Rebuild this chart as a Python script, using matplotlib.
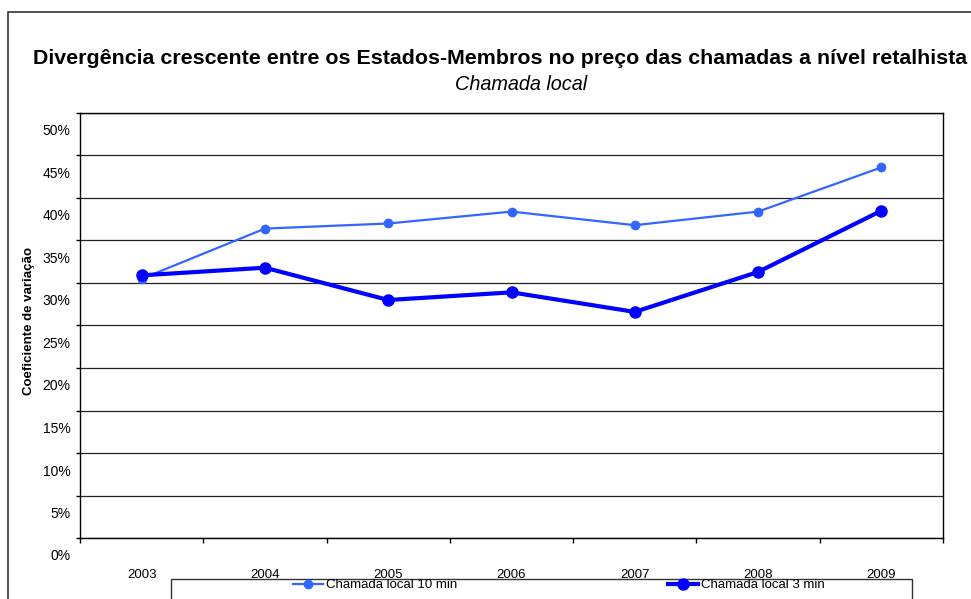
import matplotlib
matplotlib.use('Agg')
import matplotlib.pyplot as plt
from matplotlib.patches import Rectangle
from matplotlib.transforms import ScaledTranslation
from matplotlib.ticker import PercentFormatter

# данные графика
years = ['2003', '2004', '2005', '2006', '2007', '2008', '2009']
local_10min = [30.5, 36.4, 37.0, 38.4, 36.8, 38.4, 43.6]
local_3min = [30.9, 31.8, 28.0, 28.9, 26.6, 31.3, 38.5]
y_ticks = [0, 5, 10, 15, 20, 25, 30, 35, 40, 45, 50]

plt.rcParams['font.family'] = ['Liberation Sans', 'DejaVu Sans']

fig = plt.figure(figsize=(9.71, 5.99), dpi=100)
ax = fig.add_axes([80 / 971, 1 - 538 / 599, 863 / 971, 425 / 599])

x = list(range(len(years)))
ax.plot(x, local_10min, color='#3366ff', lw=1.6, marker='o', ms=6,
        label='Chamada local 10 min', zorder=3)
ax.plot(x, local_3min, color='#0000ff', lw=3, marker='o', ms=8,
        label='Chamada local 3 min', zorder=4)

ax.set_xlim(-0.5, len(years) - 0.5)
ax.set_ylim(0, 50)

# сетка и оси
ax.set_yticks(y_ticks)
ax.yaxis.set_major_formatter(PercentFormatter(decimals=0))
ax.grid(axis='y', color='#222222', lw=0.9)
ax.set_axisbelow(True)
for s in ax.spines.values():
    s.set_color('black')
    s.set_linewidth(1)

ax.set_xticks(x)
ax.set_xticklabels(years)
ax.set_xticks([i - 0.5 for i in range(len(years) + 1)], minor=True)
ax.tick_params(axis='x', which='major', length=0, pad=22, labelsize=9.5)
ax.tick_params(axis='x', which='minor', length=3.6, width=1, direction='out')
ax.tick_params(axis='y', length=3, width=1, labelsize=10, pad=4)

# подписи оси Y сдвинуты вниз, как в оригинале
offset = ScaledTranslation(0, -17 / 100, fig.dpi_scale_trans)
for lab in ax.get_yticklabels():
    lab.set_transform(lab.get_transform() + offset)

ax.set_ylabel('Coeficiente de variação', fontsize=9.5, fontweight='bold', labelpad=0)
ax.yaxis.set_label_coords(35 / 971, 1 - 321 / 599, transform=fig.transFigure)

# заголовки
fig.text(500 / 971, 1 - 58 / 599,
         'Divergência crescente entre os Estados-Membros no preço das chamadas a nível retalhista',
         ha='center', va='center', fontsize=15.4, fontweight='bold')
fig.text(521 / 971, 1 - 84 / 599, 'Chamada local', ha='center', va='center',
         fontsize=14.3, style='italic')

# внешняя рамка и рамка легенды
fig.patches.append(Rectangle((8 / 971, -0.2), 1.2, 1.2 - 12 / 599,
                             transform=fig.transFigure, fill=False,
                             edgecolor='#333333', lw=1.2))
fig.patches.append(Rectangle((171 / 971, -0.2), 741 / 971, 0.2 + (1 - 579 / 599),
                             transform=fig.transFigure, fill=False,
                             edgecolor='#333333', lw=1))

fig.legend(loc='center left', bbox_to_anchor=(293 / 971, 1 - 585 / 599), ncol=2,
           frameon=False, fontsize=9.5, handlelength=2.27, handletextpad=0.2,
           columnspacing=16.0, borderpad=0, borderaxespad=0)

plt.savefig('out.png', dpi=100)
